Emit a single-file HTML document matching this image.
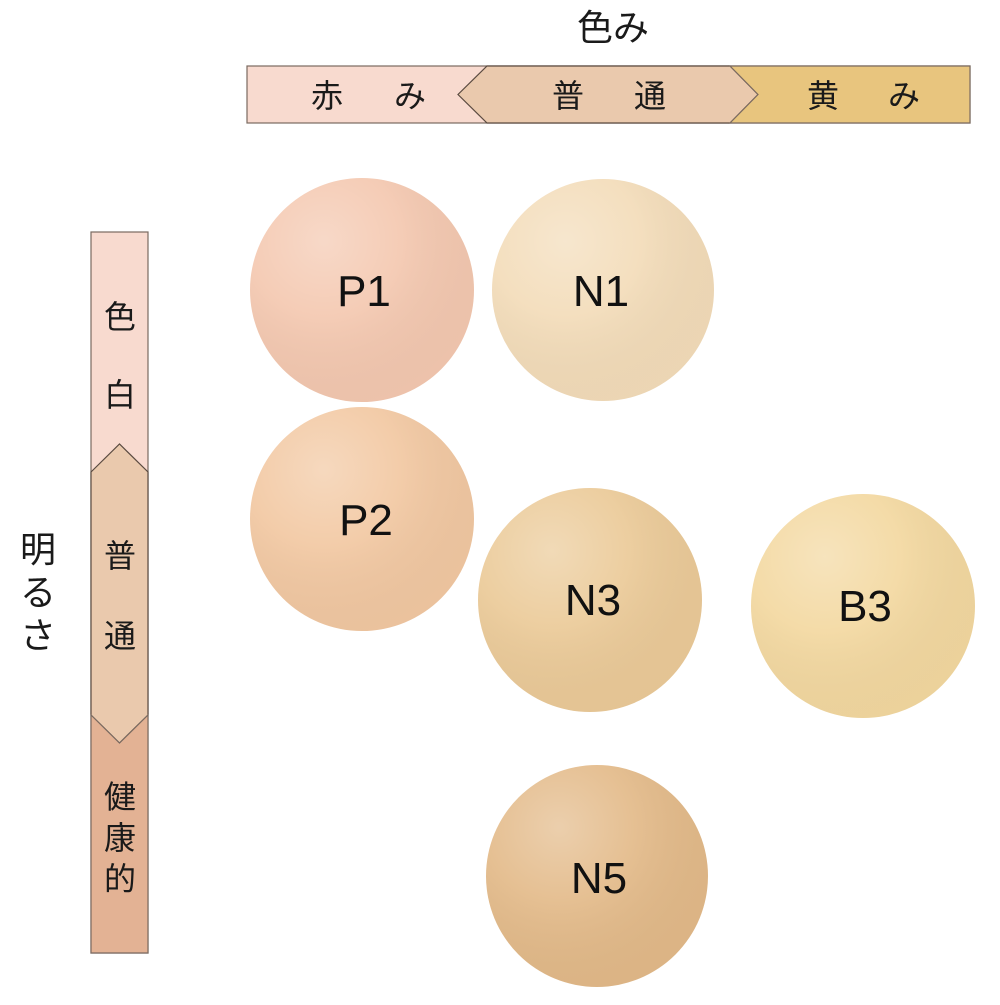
<!DOCTYPE html>
<html><head><meta charset="utf-8"><style>
body{margin:0;background:#fff;width:1000px;height:1000px;overflow:hidden}
svg text{font-family:"Liberation Sans","Noto Sans CJK JP",sans-serif}
</style></head><body>
<svg width="1000" height="1000" viewBox="0 0 1000 1000" xmlns="http://www.w3.org/2000/svg">
<defs>
<radialGradient id="hl" cx="0.33" cy="0.28" r="0.75">
<stop offset="0" stop-color="#fff" stop-opacity="0.3"/>
<stop offset="0.45" stop-color="#fff" stop-opacity="0.08"/>
<stop offset="1" stop-color="#000" stop-opacity="0.03"/>
</radialGradient>
</defs>
<text x="613" y="40" font-size="36" text-anchor="middle" font-family="Liberation Sans,Noto Sans CJK JP,sans-serif" fill="#1a1a1a">色み</text>
<rect x="247" y="66" width="723" height="57" fill="#f8dacf" stroke="#7a6a60" stroke-width="1.2"/>
<polygon points="487,66 730,66 758,94.5 730,123 487,123 458,94.5" fill="#eac9ad" stroke="#5a4a40" stroke-width="1.2"/>
<polygon points="730,66 970,66 970,123 730,123 758,94.5" fill="#e8c57e" stroke="#7a6a60" stroke-width="1.2"/>
<g font-size="32" fill="#1a1a1a" text-anchor="middle" font-family="Noto Sans CJK JP,sans-serif">
<text x="327" y="107">赤</text><text x="410" y="107">み</text>
<text x="568" y="107">普</text><text x="650" y="107">通</text>
<text x="823" y="107">黄</text><text x="904" y="107">み</text>
</g>
<rect x="91" y="232" width="57" height="721" fill="#f8dacf" stroke="#7a6a60" stroke-width="1.2"/>
<polygon points="91,472 119.5,444 148,472 148,715 119.5,743 91,715" fill="#eac9ad" stroke="#5a4a40" stroke-width="1.2"/>
<polygon points="91,715 119.5,743 148,715 148,953 91,953" fill="#e3b294" stroke="#7a6a60" stroke-width="1.2"/>
<g font-size="32" fill="#1a1a1a" text-anchor="middle" font-family="Noto Sans CJK JP,sans-serif">
<text x="120" y="328">色</text><text x="120" y="406">白</text>
<text x="120" y="567">普</text><text x="120" y="647">通</text>
<text x="120" y="808">健</text><text x="120" y="849">康</text><text x="120" y="890">的</text>
<text x="38" y="562" font-size="36">明</text><text x="38" y="605" font-size="36">る</text><text x="38" y="648" font-size="36">さ</text>
</g>
<g>
<circle cx="362" cy="290" r="112" fill="#f4c8b0"/><circle cx="362" cy="290" r="112" fill="url(#hl)"/>
<circle cx="603" cy="290" r="111" fill="#f3dcb9"/><circle cx="603" cy="290" r="111" fill="url(#hl)"/>
<circle cx="362" cy="519" r="112" fill="#f2c8a2"/><circle cx="362" cy="519" r="112" fill="url(#hl)"/>
<circle cx="590" cy="600" r="112" fill="#ebca98"/><circle cx="590" cy="600" r="112" fill="url(#hl)"/>
<circle cx="863" cy="606" r="112" fill="#f3d8a0"/><circle cx="863" cy="606" r="112" fill="url(#hl)"/>
<circle cx="597" cy="876" r="111" fill="#e3ba89"/><circle cx="597" cy="876" r="111" fill="url(#hl)"/>
</g>
<g font-size="44" fill="#111" text-anchor="middle">
<text x="364" y="306">P1</text>
<text x="601" y="306">N1</text>
<text x="366" y="535">P2</text>
<text x="593" y="615">N3</text>
<text x="865" y="621">B3</text>
<text x="599" y="893">N5</text>
</g>
</svg>
</body></html>
